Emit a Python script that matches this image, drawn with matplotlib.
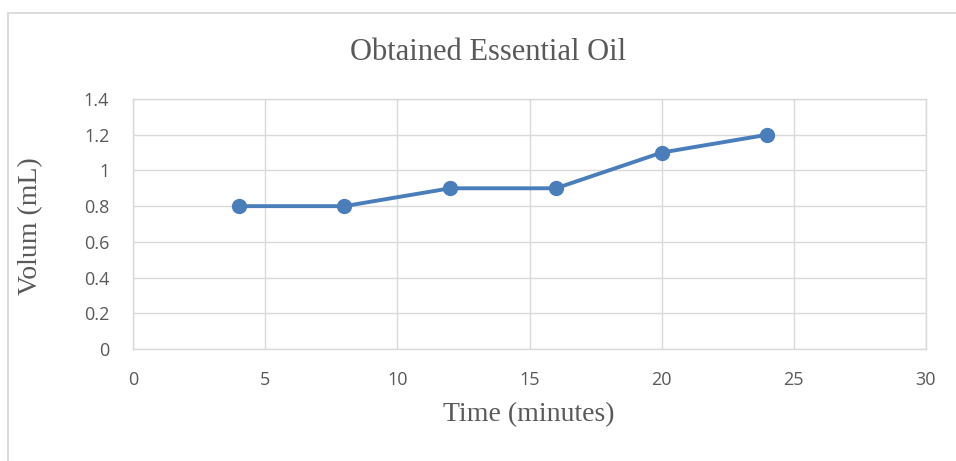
import matplotlib.pyplot as plt
from matplotlib.patches import Rectangle

# time (minutes) vs obtained oil volume (mL)
time_min = [4, 8, 12, 16, 20, 24]
volume_ml = [0.8, 0.8, 0.9, 0.9, 1.1, 1.2]
xticks = [0, 5, 10, 15, 20, 25, 30]
yticks = [0, 0.2, 0.4, 0.6, 0.8, 1, 1.2, 1.4]
ytick_labels = ['0', '0.2', '0.4', '0.6', '0.8', '1', '1.2', '1.4']

grid_col = '#d9d9d9'
text_col = '#595959'

fig = plt.figure(figsize=(9.56, 4.61), dpi=100)
# chart border (cut off at right/bottom like the screenshot)
fig.patches.append(Rectangle((8 / 956, -0.1), 1.2, 0.1 + 1 - 13 / 461,
                             transform=fig.transFigure, fill=False,
                             edgecolor=grid_col, linewidth=1.3))

ax = fig.add_axes([133 / 956, 1 - 349 / 461, (926 - 133) / 956, (349 - 99) / 461])
ax.plot(time_min, volume_ml, color='#4a7ebb', linewidth=2.8,
        marker='o', markersize=10, zorder=3)

ax.set_xlim(0, 30)
ax.set_ylim(0, 1.4)
ax.set_xticks(xticks)
ax.set_yticks(yticks)
ax.set_yticklabels(ytick_labels)
ax.grid(True, color=grid_col, linewidth=1)
ax.set_axisbelow(True)
for s in ax.spines.values():
    s.set_color(grid_col)
    s.set_linewidth(1)
ax.tick_params(length=0, labelsize=13, colors=text_col)
ax.tick_params(axis='y', pad=17)
ax.tick_params(axis='x', pad=16)
for lab in ax.get_xticklabels() + ax.get_yticklabels():
    lab.set_fontfamily('Open Sans')

# title and axis titles (serif, like the original)
fig.text(488 / 956, 1 - 52 / 461, 'Obtained Essential Oil', fontfamily='Liberation Serif',
         fontsize=22, color=text_col, ha='center', va='center')
fig.text(529 / 956, 1 - 415 / 461, 'Time (minutes)', fontfamily='Liberation Serif',
         fontsize=20, color=text_col, ha='center', va='center')
fig.text(31 / 956, 1 - 226 / 461, 'Volum (mL)', fontfamily='Liberation Serif',
         fontsize=20, color=text_col, ha='center', va='center', rotation=90)

fig.savefig('out.png', dpi=100)
